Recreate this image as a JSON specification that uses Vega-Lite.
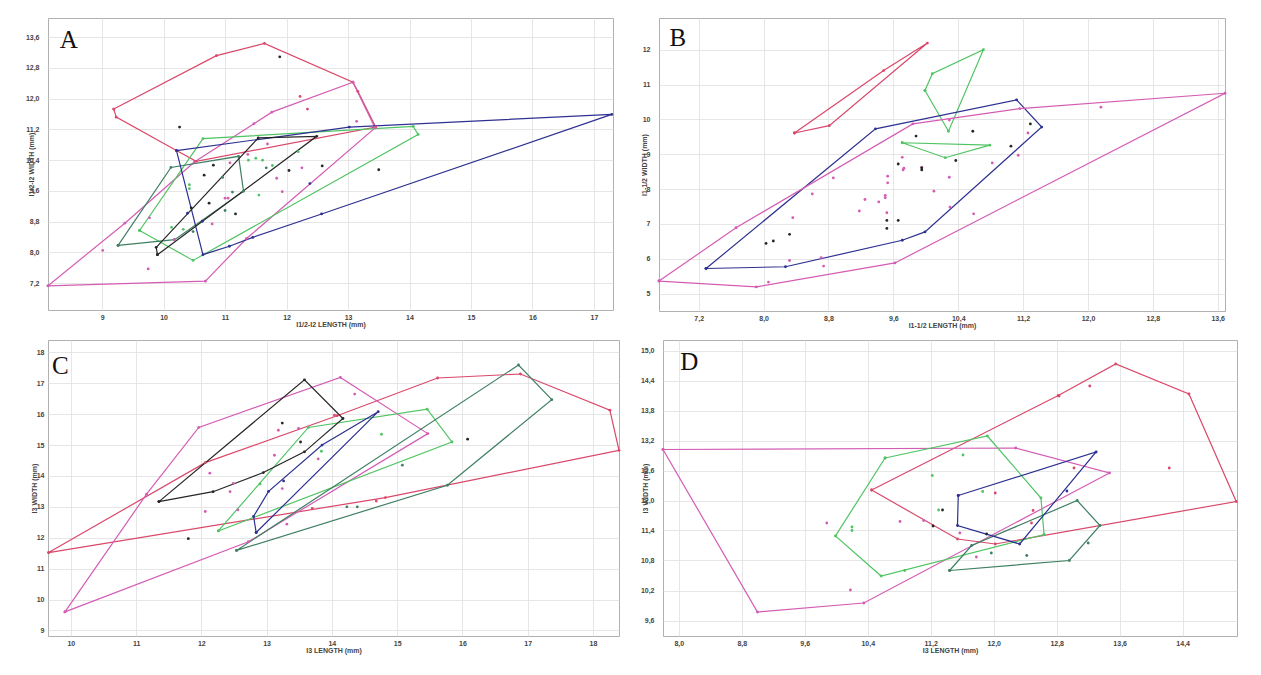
{
"$schema":"https://vega.github.io/schema/vega-lite/v6.json",
"background":"white",
"padding":{"left":24,"top":17,"right":5,"bottom":5},
"config":{
 "view":{"stroke":"#b0b0b0","strokeWidth":1},
 "axis":{"grid":true,"gridColor":"#e0e0e0","gridWidth":0.8,"domain":false,"ticks":false,
  "labelFont":"Liberation Sans","labelFontSize":7,"labelFontWeight":"bold","labelColor":"#444",
  "titleFont":"Liberation Sans","titleFontSize":7,"titleFontWeight":"bold","titleColor":"#444"},
 "axisX":{"labelPadding":3,"titleY":14,"titleBaseline":"middle"},
 "axisY":{"labelPadding":9,"titleX":-17,"titleBaseline":"middle"}
},
"datasets":{"pts":[
{"p":"A","k":"t","t":"A","x":8.31,"y":13.52},
{"p":"B","k":"t","t":"B","x":6.84,"y":12.33},
{"p":"C","k":"t","t":"C","x":9.71,"y":17.57},
{"p":"D","k":"t","t":"D","x":8.02,"y":14.77},

{"p":"A","g":"c","k":"v","o":0,"x":9.19,"y":11.73},
{"p":"A","g":"c","k":"v","o":1,"x":10.86,"y":13.12},
{"p":"A","g":"c","k":"v","o":2,"x":11.64,"y":13.44},
{"p":"A","g":"c","k":"v","o":3,"x":13.08,"y":12.43},
{"p":"A","g":"c","k":"v","o":4,"x":13.16,"y":12.19},
{"p":"A","g":"c","k":"v","o":5,"x":13.45,"y":11.26},
{"p":"A","g":"c","k":"v","o":6,"x":10.53,"y":10.37},
{"p":"A","g":"c","k":"v","o":7,"x":10.21,"y":10.65},
{"p":"A","g":"c","k":"v","o":8,"x":9.23,"y":11.52},
{"p":"A","g":"c","k":"v","o":9,"x":9.19,"y":11.73},
{"p":"A","g":"m","k":"v","o":0,"x":8.12,"y":7.13},
{"p":"A","g":"m","k":"v","o":1,"x":10.68,"y":7.25},
{"p":"A","g":"m","k":"v","o":2,"x":11.35,"y":8.36},
{"p":"A","g":"m","k":"v","o":3,"x":13.44,"y":11.24},
{"p":"A","g":"m","k":"v","o":4,"x":13.08,"y":12.43},
{"p":"A","g":"m","k":"v","o":5,"x":11.76,"y":11.65},
{"p":"A","g":"m","k":"v","o":6,"x":11.47,"y":11.35},
{"p":"A","g":"m","k":"v","o":7,"x":10.5,"y":10.35},
{"p":"A","g":"m","k":"v","o":8,"x":9.37,"y":8.76},
{"p":"A","g":"m","k":"v","o":9,"x":8.12,"y":7.13},
{"p":"A","g":"l","k":"v","o":0,"x":9.61,"y":8.57},
{"p":"A","g":"l","k":"v","o":1,"x":10.64,"y":10.96},
{"p":"A","g":"l","k":"v","o":2,"x":14.06,"y":11.28},
{"p":"A","g":"l","k":"v","o":3,"x":14.14,"y":11.07},
{"p":"A","g":"l","k":"v","o":4,"x":10.48,"y":7.79},
{"p":"A","g":"l","k":"v","o":5,"x":9.61,"y":8.57},
{"p":"A","g":"d","k":"v","o":0,"x":9.26,"y":8.18},
{"p":"A","g":"d","k":"v","o":1,"x":10.12,"y":10.21},
{"p":"A","g":"d","k":"v","o":2,"x":11.22,"y":10.5},
{"p":"A","g":"d","k":"v","o":3,"x":11.3,"y":9.59},
{"p":"A","g":"d","k":"v","o":4,"x":10.18,"y":8.33},
{"p":"A","g":"d","k":"v","o":5,"x":9.26,"y":8.18},
{"p":"A","g":"n","k":"v","o":0,"x":10.21,"y":10.65},
{"p":"A","g":"n","k":"v","o":1,"x":13.02,"y":11.26},
{"p":"A","g":"n","k":"v","o":2,"x":17.29,"y":11.59},
{"p":"A","g":"n","k":"v","o":3,"x":12.57,"y":9.0},
{"p":"A","g":"n","k":"v","o":4,"x":11.45,"y":8.39},
{"p":"A","g":"n","k":"v","o":5,"x":11.07,"y":8.16},
{"p":"A","g":"n","k":"v","o":6,"x":10.64,"y":7.94},
{"p":"A","g":"n","k":"v","o":7,"x":10.21,"y":10.65},
{"p":"A","g":"b","k":"v","o":0,"x":9.9,"y":7.94},
{"p":"A","g":"b","k":"v","o":1,"x":9.88,"y":8.13},
{"p":"A","g":"b","k":"v","o":2,"x":11.54,"y":10.98},
{"p":"A","g":"b","k":"v","o":3,"x":12.49,"y":11.02},
{"p":"A","g":"b","k":"v","o":4,"x":9.9,"y":7.94},
{"p":"A","g":"b","k":"p","x":10.26,"y":11.26},
{"p":"A","g":"b","k":"p","x":10.81,"y":10.27},
{"p":"A","g":"b","k":"p","x":10.66,"y":10.01},
{"p":"A","g":"b","k":"p","x":12.04,"y":10.13},
{"p":"A","g":"b","k":"p","x":12.58,"y":10.25},
{"p":"A","g":"b","k":"p","x":13.5,"y":10.15},
{"p":"A","g":"b","k":"p","x":11.17,"y":9.0},
{"p":"A","g":"b","k":"p","x":10.45,"y":9.16},
{"p":"A","g":"b","k":"p","x":10.74,"y":9.28},
{"p":"A","g":"b","k":"p","x":11.89,"y":13.09},
{"p":"A","g":"n","k":"p","x":12.38,"y":9.79},
{"p":"A","g":"n","k":"p","x":10.39,"y":9.02},
{"p":"A","g":"n","k":"p","x":10.63,"y":8.81},
{"p":"A","g":"m","k":"p","x":11.08,"y":10.33},
{"p":"A","g":"m","k":"p","x":11.0,"y":9.41},
{"p":"A","g":"m","k":"p","x":11.05,"y":9.41},
{"p":"A","g":"m","k":"p","x":11.37,"y":10.55},
{"p":"A","g":"m","k":"p","x":11.69,"y":10.82},
{"p":"A","g":"m","k":"p","x":11.84,"y":9.93},
{"p":"A","g":"m","k":"p","x":12.25,"y":10.2},
{"p":"A","g":"m","k":"p","x":11.93,"y":9.58},
{"p":"A","g":"m","k":"p","x":9.75,"y":7.57},
{"p":"A","g":"m","k":"p","x":9.01,"y":8.05},
{"p":"A","g":"m","k":"p","x":9.77,"y":8.9},
{"p":"A","g":"m","k":"p","x":10.18,"y":8.33},
{"p":"A","g":"m","k":"p","x":13.14,"y":11.41},
{"p":"A","g":"m","k":"p","x":10.79,"y":8.74},
{"p":"A","g":"c","k":"p","x":12.22,"y":12.06},
{"p":"A","g":"c","k":"p","x":12.34,"y":11.73},
{"p":"A","g":"l","k":"p","x":10.42,"y":9.76},
{"p":"A","g":"l","k":"p","x":10.42,"y":9.66},
{"p":"A","g":"l","k":"p","x":11.38,"y":10.4},
{"p":"A","g":"l","k":"p","x":11.5,"y":10.45},
{"p":"A","g":"l","k":"p","x":11.61,"y":10.4},
{"p":"A","g":"l","k":"p","x":11.77,"y":10.26},
{"p":"A","g":"l","k":"p","x":11.55,"y":9.49},
{"p":"A","g":"l","k":"p","x":10.13,"y":8.65},
{"p":"A","g":"l","k":"p","x":10.32,"y":8.6},
{"p":"A","g":"l","k":"p","x":12.19,"y":10.62},
{"p":"A","g":"d","k":"p","x":11.67,"y":10.2},
{"p":"A","g":"d","k":"p","x":10.96,"y":9.95},
{"p":"A","g":"d","k":"p","x":11.12,"y":9.57},
{"p":"A","g":"d","k":"p","x":11.0,"y":9.09},
{"p":"A","g":"d","k":"p","x":10.48,"y":8.54},

{"p":"B","g":"c","k":"v","o":0,"x":8.38,"y":9.61},
{"p":"B","g":"c","k":"v","o":1,"x":8.81,"y":9.82},
{"p":"B","g":"c","k":"v","o":2,"x":10.02,"y":12.19},
{"p":"B","g":"c","k":"v","o":3,"x":9.48,"y":11.4},
{"p":"B","g":"c","k":"v","o":4,"x":8.38,"y":9.61},
{"p":"B","g":"l","k":"v","o":0,"x":9.99,"y":10.83},
{"p":"B","g":"l","k":"v","o":1,"x":10.08,"y":11.31},
{"p":"B","g":"l","k":"v","o":2,"x":10.71,"y":12.0},
{"p":"B","g":"l","k":"v","o":3,"x":10.28,"y":9.66},
{"p":"B","g":"l","k":"v","o":4,"x":9.99,"y":10.83},
{"p":"B","g":"l2","k":"v","o":0,"x":9.71,"y":9.33},
{"p":"B","g":"l2","k":"v","o":1,"x":10.79,"y":9.26},
{"p":"B","g":"l2","k":"v","o":2,"x":10.24,"y":8.9},
{"p":"B","g":"l2","k":"v","o":3,"x":9.71,"y":9.33},
{"p":"B","g":"n","k":"v","o":0,"x":7.29,"y":5.72},
{"p":"B","g":"n","k":"v","o":1,"x":8.27,"y":5.77},
{"p":"B","g":"n","k":"v","o":2,"x":9.71,"y":6.53},
{"p":"B","g":"n","k":"v","o":3,"x":9.99,"y":6.77},
{"p":"B","g":"n","k":"v","o":4,"x":11.43,"y":9.78},
{"p":"B","g":"n","k":"v","o":5,"x":11.12,"y":10.56},
{"p":"B","g":"n","k":"v","o":6,"x":9.38,"y":9.73},
{"p":"B","g":"n","k":"v","o":7,"x":7.29,"y":5.72},
{"p":"B","g":"m","k":"v","o":0,"x":6.71,"y":5.36},
{"p":"B","g":"m","k":"v","o":1,"x":7.91,"y":5.19},
{"p":"B","g":"m","k":"v","o":2,"x":9.62,"y":5.88},
{"p":"B","g":"m","k":"v","o":3,"x":13.69,"y":10.75},
{"p":"B","g":"m","k":"v","o":4,"x":11.16,"y":10.31},
{"p":"B","g":"m","k":"v","o":5,"x":9.84,"y":9.87},
{"p":"B","g":"m","k":"v","o":6,"x":7.66,"y":6.89},
{"p":"B","g":"m","k":"v","o":7,"x":6.71,"y":5.36},
{"p":"B","g":"m","k":"p","x":8.06,"y":5.33},
{"p":"B","g":"m","k":"p","x":8.32,"y":5.95},
{"p":"B","g":"m","k":"p","x":8.74,"y":5.79},
{"p":"B","g":"m","k":"p","x":8.71,"y":6.03},
{"p":"B","g":"m","k":"p","x":8.36,"y":7.18},
{"p":"B","g":"m","k":"p","x":8.6,"y":7.86},
{"p":"B","g":"m","k":"p","x":8.86,"y":8.32},
{"p":"B","g":"m","k":"p","x":9.18,"y":7.37},
{"p":"B","g":"m","k":"p","x":9.25,"y":7.7},
{"p":"B","g":"m","k":"p","x":9.42,"y":7.63},
{"p":"B","g":"m","k":"p","x":9.5,"y":7.75},
{"p":"B","g":"m","k":"p","x":9.5,"y":7.82},
{"p":"B","g":"m","k":"p","x":9.53,"y":8.18},
{"p":"B","g":"m","k":"p","x":9.53,"y":8.37},
{"p":"B","g":"m","k":"p","x":9.52,"y":7.32},
{"p":"B","g":"m","k":"p","x":9.71,"y":8.91},
{"p":"B","g":"m","k":"p","x":9.72,"y":8.55},
{"p":"B","g":"m","k":"p","x":9.73,"y":8.6},
{"p":"B","g":"m","k":"p","x":9.95,"y":8.62},
{"p":"B","g":"m","k":"p","x":10.1,"y":7.94},
{"p":"B","g":"m","k":"p","x":10.29,"y":8.34},
{"p":"B","g":"m","k":"p","x":10.3,"y":7.48},
{"p":"B","g":"m","k":"p","x":10.59,"y":7.29},
{"p":"B","g":"m","k":"p","x":10.82,"y":8.75},
{"p":"B","g":"m","k":"p","x":11.14,"y":8.97},
{"p":"B","g":"m","k":"p","x":11.26,"y":9.61},
{"p":"B","g":"m","k":"p","x":12.16,"y":10.35},
{"p":"B","g":"m","k":"p","x":10.29,"y":9.98},
{"p":"B","g":"b","k":"p","x":8.03,"y":6.44},
{"p":"B","g":"b","k":"p","x":8.12,"y":6.51},
{"p":"B","g":"b","k":"p","x":8.32,"y":6.7},
{"p":"B","g":"b","k":"p","x":9.52,"y":7.1},
{"p":"B","g":"b","k":"p","x":9.52,"y":6.87},
{"p":"B","g":"b","k":"p","x":9.66,"y":7.1},
{"p":"B","g":"b","k":"p","x":9.66,"y":8.72},
{"p":"B","g":"b","k":"p","x":9.88,"y":9.52},
{"p":"B","g":"b","k":"p","x":9.95,"y":8.61},
{"p":"B","g":"b","k":"p","x":9.95,"y":8.55},
{"p":"B","g":"b","k":"p","x":10.37,"y":8.82},
{"p":"B","g":"b","k":"p","x":10.58,"y":9.66},
{"p":"B","g":"b","k":"p","x":11.05,"y":9.23},
{"p":"B","g":"b","k":"p","x":11.29,"y":9.87},

{"p":"C","g":"c","k":"v","o":0,"x":9.66,"y":11.52},
{"p":"C","g":"c","k":"v","o":1,"x":12.06,"y":14.43},
{"p":"C","g":"c","k":"v","o":2,"x":14.08,"y":15.95},
{"p":"C","g":"c","k":"v","o":3,"x":15.62,"y":17.17},
{"p":"C","g":"c","k":"v","o":4,"x":16.89,"y":17.3},
{"p":"C","g":"c","k":"v","o":5,"x":18.26,"y":16.13},
{"p":"C","g":"c","k":"v","o":6,"x":18.4,"y":14.83},
{"p":"C","g":"c","k":"v","o":7,"x":14.82,"y":13.3},
{"p":"C","g":"c","k":"v","o":8,"x":9.66,"y":11.52},
{"p":"C","g":"m","k":"v","o":0,"x":9.91,"y":9.6},
{"p":"C","g":"m","k":"v","o":1,"x":11.16,"y":13.41},
{"p":"C","g":"m","k":"v","o":2,"x":11.96,"y":15.57},
{"p":"C","g":"m","k":"v","o":3,"x":14.13,"y":17.19},
{"p":"C","g":"m","k":"v","o":4,"x":15.47,"y":15.37},
{"p":"C","g":"m","k":"v","o":5,"x":12.72,"y":11.87},
{"p":"C","g":"m","k":"v","o":6,"x":9.91,"y":9.6},
{"p":"C","g":"l","k":"v","o":0,"x":12.26,"y":12.22},
{"p":"C","g":"l","k":"v","o":1,"x":13.64,"y":15.57},
{"p":"C","g":"l","k":"v","o":2,"x":15.46,"y":16.16},
{"p":"C","g":"l","k":"v","o":3,"x":15.84,"y":15.1},
{"p":"C","g":"l","k":"v","o":4,"x":12.26,"y":12.22},
{"p":"C","g":"d","k":"v","o":0,"x":12.54,"y":11.59},
{"p":"C","g":"d","k":"v","o":1,"x":15.77,"y":13.7},
{"p":"C","g":"d","k":"v","o":2,"x":17.37,"y":16.47},
{"p":"C","g":"d","k":"v","o":3,"x":16.86,"y":17.59},
{"p":"C","g":"d","k":"v","o":4,"x":12.54,"y":11.59},
{"p":"C","g":"b","k":"v","o":0,"x":11.35,"y":13.17},
{"p":"C","g":"b","k":"v","o":1,"x":13.58,"y":17.11},
{"p":"C","g":"b","k":"v","o":2,"x":14.17,"y":15.86},
{"p":"C","g":"b","k":"v","o":3,"x":13.58,"y":14.78},
{"p":"C","g":"b","k":"v","o":4,"x":12.95,"y":14.11},
{"p":"C","g":"b","k":"v","o":5,"x":12.18,"y":13.49},
{"p":"C","g":"b","k":"v","o":6,"x":11.35,"y":13.17},
{"p":"C","g":"n","k":"v","o":0,"x":12.84,"y":12.17},
{"p":"C","g":"n","k":"v","o":1,"x":12.8,"y":12.69},
{"p":"C","g":"n","k":"v","o":2,"x":13.03,"y":13.5},
{"p":"C","g":"n","k":"v","o":3,"x":13.85,"y":15.0},
{"p":"C","g":"n","k":"v","o":4,"x":14.71,"y":16.08},
{"p":"C","g":"n","k":"v","o":5,"x":12.84,"y":12.17},
{"p":"C","g":"m","k":"p","x":12.13,"y":14.09},
{"p":"C","g":"m","k":"p","x":12.06,"y":12.85},
{"p":"C","g":"m","k":"p","x":12.49,"y":13.76},
{"p":"C","g":"m","k":"p","x":12.44,"y":13.49},
{"p":"C","g":"m","k":"p","x":12.56,"y":12.9},
{"p":"C","g":"m","k":"p","x":13.12,"y":14.67},
{"p":"C","g":"m","k":"p","x":13.18,"y":15.48},
{"p":"C","g":"m","k":"p","x":13.49,"y":15.54},
{"p":"C","g":"m","k":"p","x":13.24,"y":13.59},
{"p":"C","g":"m","k":"p","x":13.31,"y":12.44},
{"p":"C","g":"m","k":"p","x":14.35,"y":16.65},
{"p":"C","g":"m","k":"p","x":13.79,"y":14.55},
{"p":"C","g":"c","k":"p","x":14.68,"y":13.19},
{"p":"C","g":"c","k":"p","x":14.04,"y":15.97},
{"p":"C","g":"c","k":"p","x":13.7,"y":12.95},
{"p":"C","g":"b","k":"p","x":11.8,"y":11.97},
{"p":"C","g":"b","k":"p","x":13.24,"y":15.71},
{"p":"C","g":"b","k":"p","x":13.52,"y":15.1},
{"p":"C","g":"b","k":"p","x":16.08,"y":15.19},
{"p":"C","g":"l","k":"p","x":12.9,"y":13.74},
{"p":"C","g":"l","k":"p","x":13.84,"y":14.8},
{"p":"C","g":"l","k":"p","x":14.76,"y":15.35},
{"p":"C","g":"d","k":"p","x":15.08,"y":14.35},
{"p":"C","g":"d","k":"p","x":14.23,"y":13.0},
{"p":"C","g":"d","k":"p","x":14.39,"y":13.0},
{"p":"C","g":"n","k":"p","x":13.26,"y":13.84},

{"p":"D","g":"c","k":"v","o":0,"x":10.45,"y":12.21},
{"p":"D","g":"c","k":"v","o":1,"x":12.82,"y":14.1},
{"p":"D","g":"c","k":"v","o":2,"x":13.55,"y":14.73},
{"p":"D","g":"c","k":"v","o":3,"x":14.48,"y":14.13},
{"p":"D","g":"c","k":"v","o":4,"x":15.08,"y":11.98},
{"p":"D","g":"c","k":"v","o":5,"x":12.02,"y":11.13},
{"p":"D","g":"c","k":"v","o":6,"x":11.54,"y":11.23},
{"p":"D","g":"c","k":"v","o":7,"x":10.45,"y":12.21},
{"p":"D","g":"m","k":"v","o":0,"x":7.8,"y":13.02},
{"p":"D","g":"m","k":"v","o":1,"x":12.28,"y":13.05},
{"p":"D","g":"m","k":"v","o":2,"x":13.47,"y":12.55},
{"p":"D","g":"m","k":"v","o":3,"x":10.35,"y":9.95},
{"p":"D","g":"m","k":"v","o":4,"x":9.0,"y":9.77},
{"p":"D","g":"m","k":"v","o":5,"x":7.8,"y":13.02},
{"p":"D","g":"l","k":"v","o":0,"x":10.62,"y":12.85},
{"p":"D","g":"l","k":"v","o":1,"x":11.92,"y":13.29},
{"p":"D","g":"l","k":"v","o":2,"x":12.6,"y":12.05},
{"p":"D","g":"l","k":"v","o":3,"x":12.64,"y":11.32},
{"p":"D","g":"l","k":"v","o":4,"x":10.57,"y":10.49},
{"p":"D","g":"l","k":"v","o":5,"x":9.99,"y":11.29},
{"p":"D","g":"l","k":"v","o":6,"x":10.62,"y":12.85},
{"p":"D","g":"d","k":"v","o":0,"x":11.44,"y":10.6},
{"p":"D","g":"d","k":"v","o":1,"x":12.96,"y":10.8},
{"p":"D","g":"d","k":"v","o":2,"x":13.35,"y":11.5},
{"p":"D","g":"d","k":"v","o":3,"x":13.06,"y":12.0},
{"p":"D","g":"d","k":"v","o":4,"x":11.72,"y":11.1},
{"p":"D","g":"d","k":"v","o":5,"x":11.44,"y":10.6},
{"p":"D","g":"n","k":"v","o":0,"x":11.55,"y":12.1},
{"p":"D","g":"n","k":"v","o":1,"x":13.3,"y":12.97},
{"p":"D","g":"n","k":"v","o":2,"x":12.33,"y":11.13},
{"p":"D","g":"n","k":"v","o":3,"x":11.54,"y":11.5},
{"p":"D","g":"n","k":"v","o":4,"x":11.55,"y":12.1},
{"p":"D","g":"m","k":"p","x":9.88,"y":11.55},
{"p":"D","g":"m","k":"p","x":10.18,"y":10.21},
{"p":"D","g":"m","k":"p","x":10.81,"y":11.58},
{"p":"D","g":"m","k":"p","x":11.11,"y":11.6},
{"p":"D","g":"m","k":"p","x":11.78,"y":10.87},
{"p":"D","g":"m","k":"p","x":11.57,"y":11.35},
{"p":"D","g":"c","k":"p","x":12.02,"y":12.15},
{"p":"D","g":"c","k":"p","x":12.5,"y":11.8},
{"p":"D","g":"c","k":"p","x":12.48,"y":11.55},
{"p":"D","g":"c","k":"p","x":12.83,"y":14.09},
{"p":"D","g":"c","k":"p","x":13.22,"y":14.29},
{"p":"D","g":"c","k":"p","x":13.02,"y":12.65},
{"p":"D","g":"c","k":"p","x":14.23,"y":12.65},
{"p":"D","g":"l","k":"p","x":10.2,"y":11.47},
{"p":"D","g":"l","k":"p","x":10.2,"y":11.4},
{"p":"D","g":"l","k":"p","x":10.87,"y":10.6},
{"p":"D","g":"l","k":"p","x":11.22,"y":12.5},
{"p":"D","g":"l","k":"p","x":11.3,"y":11.81},
{"p":"D","g":"l","k":"p","x":11.61,"y":12.91},
{"p":"D","g":"l","k":"p","x":11.86,"y":12.18},
{"p":"D","g":"d","k":"p","x":11.97,"y":10.95},
{"p":"D","g":"d","k":"p","x":12.42,"y":10.9},
{"p":"D","g":"d","k":"p","x":13.2,"y":11.15},
{"p":"D","g":"b","k":"p","x":11.23,"y":11.49},
{"p":"D","g":"b","k":"p","x":11.35,"y":11.81},
{"p":"D","g":"b","k":"p","x":11.91,"y":11.33},
{"p":"D","g":"n","k":"p","x":12.93,"y":12.19}
]},
"spacing":10,
"vconcat":[
{"hconcat":[
 {"width":565,"height":292,"data":{"name":"pts"},"transform":[{"filter":"datum.p=='A'"}],
  "encoding":{
   "x":{"field":"x","type":"quantitative","scale":{"domain":[8.12,17.31],"nice":false,"zero":false},"axis":{"title":"I1/2-I2 LENGTH (mm)","values":[9,10,11,12,13,14,15,16,17]}},
   "y":{"field":"y","type":"quantitative","scale":{"domain":[6.5,14.1],"nice":false,"zero":false},"axis":{"title":"I1/2-I2 WIDTH (mm)","values":[7.2,8,8.8,9.6,10.4,11.2,12,12.8,13.6],"labelExpr":"replace(format(datum.value,'.1f'),'.',',')"}}},
  "layer":[
   {"transform":[{"filter":"datum.k=='v'"}],"mark":{"type":"line","strokeWidth":1.2,"clip":true},
    "encoding":{"order":{"field":"o","type":"quantitative"},"detail":{"field":"g"},
     "color":{"field":"g","type":"nominal","legend":null,"scale":{"domain":["c","m","l","l2","d","n","b"],"range":["#d9486a","#d45cb4","#4fc463","#4fc463","#3f7f62","#2e3190","#262626"]}}}},
   {"transform":[{"filter":"datum.k!='t'"}],"mark":{"type":"point","filled":true,"size":8,"opacity":1},
    "encoding":{"color":{"field":"g","type":"nominal","legend":null,"scale":{"domain":["c","m","l","l2","d","n","b"],"range":["#d9486a","#d45cb4","#4fc463","#4fc463","#3f7f62","#2e3190","#262626"]}}}},
   {"transform":[{"filter":"datum.k=='t'"}],"mark":{"type":"text","font":"Liberation Serif","fontSize":25,"align":"left","baseline":"middle","color":"#111"},
    "encoding":{"text":{"field":"t"}}}
  ]},
 {"width":566,"height":293,"data":{"name":"pts"},"transform":[{"filter":"datum.p=='B'"}],
  "encoding":{
   "x":{"field":"x","type":"quantitative","scale":{"domain":[6.71,13.69],"nice":false,"zero":false},"axis":{"title":"I1-1/2 LENGTH (mm)","values":[7.2,8,8.8,9.6,10.4,11.2,12,12.8,13.6],"labelExpr":"replace(format(datum.value,'.1f'),'.',',')"}},
   "y":{"field":"y","type":"quantitative","scale":{"domain":[4.5,12.91],"nice":false,"zero":false},"axis":{"title":"I1-1/2 WIDTH (mm)","values":[5,6,7,8,9,10,11,12],"titleX":-15}}},
  "layer":[
   {"transform":[{"filter":"datum.k=='v'"}],"mark":{"type":"line","strokeWidth":1.2,"clip":true},
    "encoding":{"order":{"field":"o","type":"quantitative"},"detail":{"field":"g"},
     "color":{"field":"g","type":"nominal","legend":null,"scale":{"domain":["c","m","l","l2","d","n","b"],"range":["#d9486a","#d45cb4","#4fc463","#4fc463","#3f7f62","#2e3190","#262626"]}}}},
   {"transform":[{"filter":"datum.k!='t'"}],"mark":{"type":"point","filled":true,"size":8,"opacity":1},
    "encoding":{"color":{"field":"g","type":"nominal","legend":null,"scale":{"domain":["c","m","l","l2","d","n","b"],"range":["#d9486a","#d45cb4","#4fc463","#4fc463","#3f7f62","#2e3190","#262626"]}}}},
   {"transform":[{"filter":"datum.k=='t'"}],"mark":{"type":"text","font":"Liberation Serif","fontSize":25,"align":"left","baseline":"middle","color":"#111"},
    "encoding":{"text":{"field":"t"}}}
  ]}
 ],"spacing":46,"bounds":"flush"},
{"hconcat":[
 {"width":571,"height":296,"data":{"name":"pts"},"transform":[{"filter":"datum.p=='C'"}],
  "encoding":{
   "x":{"field":"x","type":"quantitative","scale":{"domain":[9.65,18.4],"nice":false,"zero":false},"axis":{"title":"I3 LENGTH (mm)","values":[10,11,12,13,14,15,16,17,18]}},
   "y":{"field":"y","type":"quantitative","scale":{"domain":[8.82,18.4],"nice":false,"zero":false},"axis":{"title":"I3 WIDTH (mm)","values":[9,10,11,12,13,14,15,16,17,18],"labelPadding":4,"titleX":-14}}},
  "layer":[
   {"transform":[{"filter":"datum.k=='v'"}],"mark":{"type":"line","strokeWidth":1.2,"clip":true},
    "encoding":{"order":{"field":"o","type":"quantitative"},"detail":{"field":"g"},
     "color":{"field":"g","type":"nominal","legend":null,"scale":{"domain":["c","m","l","l2","d","n","b"],"range":["#d9486a","#d45cb4","#4fc463","#4fc463","#3f7f62","#2e3190","#262626"]}}}},
   {"transform":[{"filter":"datum.k!='t'"}],"mark":{"type":"point","filled":true,"size":8,"opacity":1},
    "encoding":{"color":{"field":"g","type":"nominal","legend":null,"scale":{"domain":["c","m","l","l2","d","n","b"],"range":["#d9486a","#d45cb4","#4fc463","#4fc463","#3f7f62","#2e3190","#262626"]}}}},
   {"transform":[{"filter":"datum.k=='t'"}],"mark":{"type":"text","font":"Liberation Serif","fontSize":25,"align":"left","baseline":"middle","color":"#111"},
    "encoding":{"text":{"field":"t"}}}
  ]},
 {"width":574,"height":296,"data":{"name":"pts"},"transform":[{"filter":"datum.p=='D'"}],
  "encoding":{
   "x":{"field":"x","type":"quantitative","scale":{"domain":[7.8,15.09],"nice":false,"zero":false},"axis":{"title":"I3 LENGTH (mm)","values":[8,8.8,9.6,10.4,11.2,12,12.8,13.6,14.4],"labelExpr":"replace(format(datum.value,'.1f'),'.',',')"}},
   "y":{"field":"y","type":"quantitative","scale":{"domain":[9.29,15.21],"nice":false,"zero":false},"axis":{"title":"I3 WIDTH (mm)","values":[9.6,10.2,10.8,11.4,12,12.6,13.2,13.8,14.4,15],"labelExpr":"replace(format(datum.value,'.1f'),'.',',')","titleX":-18}}},
  "layer":[
   {"transform":[{"filter":"datum.k=='v'"}],"mark":{"type":"line","strokeWidth":1.2,"clip":true},
    "encoding":{"order":{"field":"o","type":"quantitative"},"detail":{"field":"g"},
     "color":{"field":"g","type":"nominal","legend":null,"scale":{"domain":["c","m","l","l2","d","n","b"],"range":["#d9486a","#d45cb4","#4fc463","#4fc463","#3f7f62","#2e3190","#262626"]}}}},
   {"transform":[{"filter":"datum.k!='t'"}],"mark":{"type":"point","filled":true,"size":8,"opacity":1},
    "encoding":{"color":{"field":"g","type":"nominal","legend":null,"scale":{"domain":["c","m","l","l2","d","n","b"],"range":["#d9486a","#d45cb4","#4fc463","#4fc463","#3f7f62","#2e3190","#262626"]}}}},
   {"transform":[{"filter":"datum.k=='t'"}],"mark":{"type":"text","font":"Liberation Serif","fontSize":25,"align":"left","baseline":"middle","color":"#111"},
    "encoding":{"text":{"field":"t"}}}
  ]}
 ],"spacing":44,"bounds":"flush"}
]
}
